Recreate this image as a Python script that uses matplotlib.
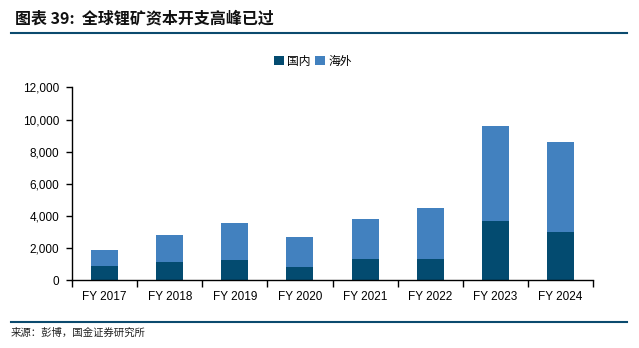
import matplotlib.pyplot as plt
import numpy as np
from matplotlib.ticker import FuncFormatter, FixedLocator

plt.rcParams['font.family'] = ['Liberation Sans', 'Noto Sans CJK SC', 'DejaVu Sans']

years = ["FY 2017", "FY 2018", "FY 2019", "FY 2020", "FY 2021", "FY 2022", "FY 2023", "FY 2024"]
domestic = [890, 1140, 1260, 830, 1325, 1325, 3690, 3000]
total = [1880, 2820, 3560, 2690, 3810, 4500, 9600, 8600]
overseas = [t - d for t, d in zip(total, domestic)]

c_dom = "#034b70"
c_ovs = "#4281bf"
c_rule = "#0b4a6e"

fig = plt.figure(figsize=(6.39, 3.48), dpi=100)
ax = fig.add_axes([0.1127, 0.1945, 0.8153, 0.5545])

x = np.arange(len(years))
w = 0.415
ax.bar(x, domestic, width=w, color=c_dom, label="国内", zorder=2)
ax.bar(x, overseas, width=w, bottom=domestic, color=c_ovs, label="海外", zorder=2)

ax.set_xlim(-0.5, len(years) - 0.5)
ax.set_ylim(0, 12000)
ax.set_yticks(np.arange(0, 12001, 2000))
ax.yaxis.set_major_formatter(FuncFormatter(lambda v, p: f"{int(v):,}"))
ax.set_xticks(x)
ax.set_xticklabels(years)
ax.xaxis.set_minor_locator(FixedLocator(np.arange(-0.5, len(years), 1.0)))
ax.tick_params(axis='x', which='major', length=0, pad=8, labelsize=8.5, colors='black')
ax.tick_params(axis='x', which='minor', length=5, width=1, direction='out')
ax.tick_params(axis='y', which='major', length=4, width=1, direction='out', pad=5, labelsize=8.5)

for s in ["top", "right"]:
    ax.spines[s].set_visible(False)
for s in ["left", "bottom"]:
    ax.spines[s].set_linewidth(1)
    ax.spines[s].set_color("black")

leg = fig.legend(loc="center", bbox_to_anchor=(313 / 639, 1 - 61 / 348), ncol=2,
                 frameon=False, handlelength=0.8, handleheight=0.8, handletextpad=0.3,
                 columnspacing=0.4, prop={'family': ['Noto Sans CJK SC'], 'size': 8.5})

# title and rules
fig.text(15 / 639, 1 - 18 / 348, "图表 39:  全球锂矿资本开支高峰已过", fontsize=11.5, fontweight='bold',
         family=['Noto Sans CJK SC', 'DejaVu Sans'], va='center', ha='left', color="#111111")
fig.add_artist(plt.Line2D([11 / 639, 627 / 639], [1 - 33 / 348, 1 - 33 / 348], color=c_rule, lw=1.5))
fig.add_artist(plt.Line2D([11 / 639, 627 / 639], [1 - 322 / 348, 1 - 322 / 348], color=c_rule, lw=1.5))
fig.text(11 / 639, 1 - 333 / 348, "来源：彭博，国金证券研究所", fontsize=7.5,
         family=['Noto Sans CJK SC'], va='center', ha='left', color="#222222")

fig.savefig("out.png", dpi=100)
